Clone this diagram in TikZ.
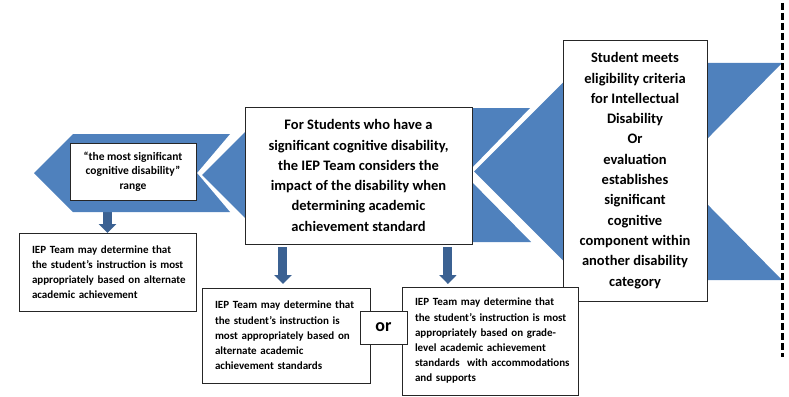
\documentclass[tikz,border=0pt]{standalone}
\usepackage{fontspec}
\setmainfont{Carlito}
\usetikzlibrary{arrows.meta,calc}
\definecolor{chev}{HTML}{4F81BD}
\definecolor{arr}{HTML}{3B6192}
\pgfdeclarelayer{bg}
\pgfdeclarelayer{mid}
\pgfsetlayers{bg,mid,main}
\hfuzz=200pt
\begin{document}
\begin{tikzpicture}[x=1pt,y=-1pt,
  box/.style={draw=black!85, line width=0.8pt, fill=white, inner sep=0pt, outer sep=0pt},
  bigtxt/.style={box, align=center, font=\bfseries\fontsize{14.5}{20.3}\selectfont},
  smalltxt/.style={box, align=left, inner xsep=13pt, font=\bfseries\fontsize{11}{15.2}\selectfont},
  chevshape/.style={fill=chev},
  barrow/.style={draw=arr, line width=9pt, -{Triangle[width=17pt,length=9pt]}}]
\useasboundingbox (0,0) rectangle (789,396);

% boxes
\node[box, minimum width=126pt, minimum height=57pt, align=center,
  font=\bfseries\fontsize{11.5}{14.6}\selectfont] (boxA) at (133,171.5)
  {“the most significant\\ cognitive disability”\\ range};
\node[bigtxt, minimum width=227pt, minimum height=137pt] (boxC) at (358.5,175.5)
  {For Students who have a\\ significant cognitive disability,\\ the IEP Team considers the\\ impact of the disability when\\ determining academic\\ achievement standard};
\node[bigtxt, minimum width=144pt, minimum height=261pt] (boxD) at (635,170.5)
  {Student meets\\ eligibility criteria\\ for Intellectual\\ Disability\\ Or\\ evaluation\\ establishes\\ significant\\ cognitive\\ component within\\ another disability\\ category};
\node[smalltxt, minimum width=177pt, minimum height=78pt, text width=151pt] (boxB) at (107.5,272)
  {\mbox{IEP Team may determine that}\\ \mbox{the student’s instruction is most}\\ \mbox{appropriately based on alternate}\\ \mbox{academic achievement}};
\node[smalltxt, minimum width=168pt, minimum height=95pt, text width=142pt] (boxE) at (286,335.5)
  {\mbox{IEP Team may determine that}\\ \mbox{the student’s instruction is}\\ \mbox{most appropriately based on}\\ \mbox{alternate academic}\\ \mbox{achievement standards}};
\node[smalltxt, minimum width=176pt, minimum height=108pt, text width=150pt] (boxF) at (490,341)
  {\mbox{IEP Team may determine that}\\ \mbox{the student’s instruction is most}\\ \mbox{appropriately based on grade-}\\ \mbox{level academic achievement}\\ \mbox{standards\ \ with accommodations}\\ \mbox{and supports}};
\node[box, minimum width=47pt, minimum height=33pt, font=\bfseries\fontsize{18}{20}\selectfont] (orbox) at (383.5,327.5) {or};

% chevrons
\begin{pgfonlayer}{mid}
\fill[chevshape] (34,173) -- (73,134) -- (230,134) -- (197,173) -- (230,212) -- (73,212) -- cycle;
\fill[chevshape] (202,175) -- (269,108) -- (530,108) -- (465,175) -- (531,242) -- (269,242) -- cycle;
\fill[chevshape] (474,171.5) -- (582.5,63) -- (782,63) -- (675,171.5) -- (782,280) -- (582.5,280) -- cycle;
\end{pgfonlayer}

% connectors
\begin{pgfonlayer}{bg}
\draw[barrow] (boxA.south -| boxB.north) -- (boxB.north);
\coordinate (eTop) at ($(boxE.north west)!0.482!(boxE.north east)$);
\coordinate (fTop) at ($(boxF.north west)!0.261!(boxF.north east)$);
\draw[barrow, shorten <=3pt, shorten >=4pt] (boxC.south -| eTop) -- (eTop);
\draw[barrow, shorten <=3pt, shorten >=3pt] (boxC.south -| fTop) -- (fTop);
\end{pgfonlayer}

% dashed boundary
\coordinate (dTop) at (782,3);
\coordinate (dBot) at (782,357);
\draw[line width=3pt, dash pattern=on 7pt off 3pt] (dTop) -- (dBot);
\end{tikzpicture}
\end{document}
